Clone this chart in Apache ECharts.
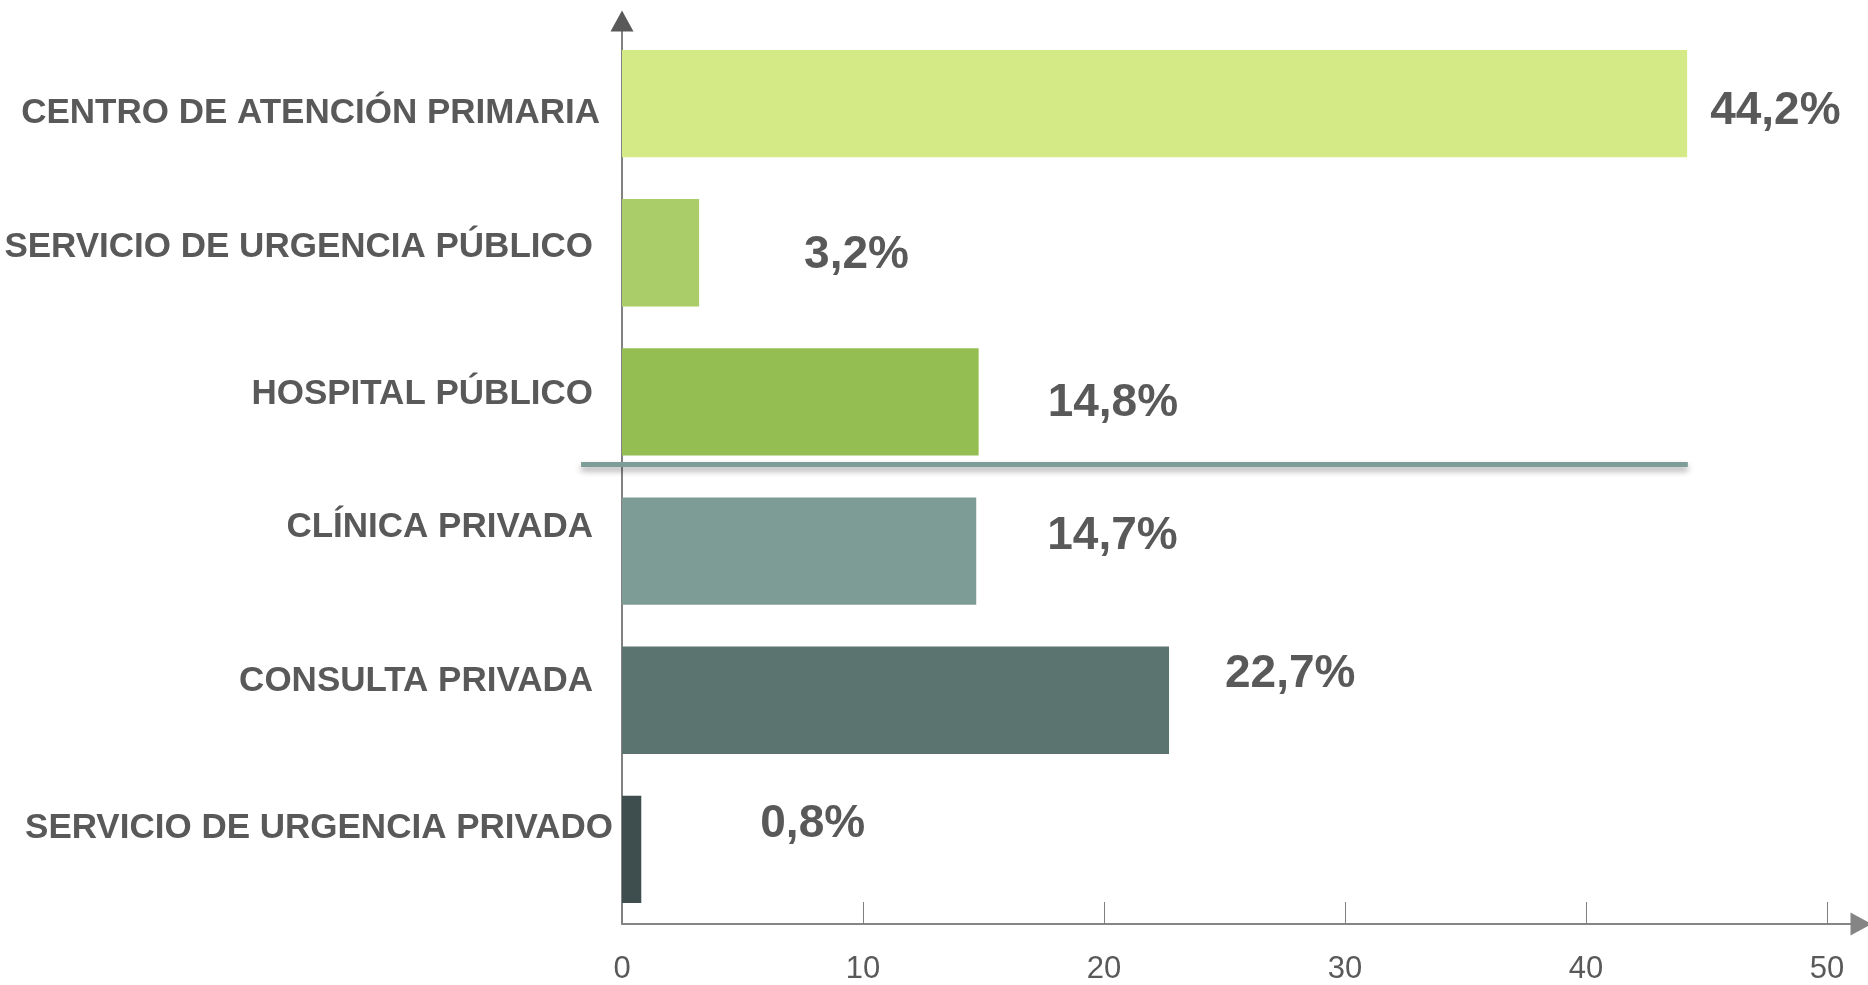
<!DOCTYPE html>
<html>
<head>
<meta charset="utf-8">
<title>Lugar de atención</title>
<script src="https://cdn.jsdelivr.net/npm/echarts@6/dist/echarts.min.js"></script>
<style>
  html, body { margin: 0; padding: 0; background: #fff; }
  #chart { width: 1868px; height: 985px; }
</style>
</head>
<body>
<div id="chart"></div>
<script>
// data
var categories = [
    'CENTRO DE ATENCIÓN PRIMARIA',
    'SERVICIO DE URGENCIA PÚBLICO',
    'HOSPITAL PÚBLICO',
    'CLÍNICA PRIVADA',
    'CONSULTA PRIVADA',
    'SERVICIO DE URGENCIA PRIVADO'
];
var percentages = [44.2, 3.2, 14.8, 14.7, 22.7, 0.8];
var tickValues = [0, 10, 20, 30, 40, 50];

// public / private divider, in axis units
var dividerAt = 2.92;
var dividerSpan = [-1.7, 44.23];

// styling
var barColors = ['#d4ea86', '#aacd6a', '#94be52', '#7e9c96', '#5b7470', '#3e4d4d'];
// the labels on the slide were placed by hand, so each one gets its own nudge [dx, dy]
var valueLabelShift = [[23, 8], [105, 3], [69, 1], [71, -15], [56, -26], [119, -25]];
var catLabelShift = [[13, 10], [20, -5], [20, -8], [20, -24], [20, -19], [0, -21]];

var textColor = '#595959';

var richCats = {};
catLabelShift.forEach(function (s, i) {
    var dy = s[1];
    richCats['c' + i] = {
        fontFamily: "'Liberation Sans', sans-serif",
        fontWeight: 'bold',
        fontSize: 35,
        lineHeight: 35,
        color: textColor,
        padding: [dy > 0 ? dy * 2 : 0, s[0], dy < 0 ? -dy * 2 : 0, 0]
    };
});

var barData = percentages.map(function (v, i) {
    return {
        value: v,
        itemStyle: { color: barColors[i] },
        label: { offset: valueLabelShift[i] }
    };
});

var chart = echarts.init(document.getElementById('chart'));

chart.setOption({
    animation: false,
    backgroundColor: '#ffffff',
    grid: {
        left: 622,
        right: 17,
        top: 29,
        bottom: 61,
        outerBoundsMode: 'none'
    },
    xAxis: {
        type: 'value',
        min: 0,
        max: 51,
        splitLine: { show: false },
        axisLine: {
            show: true,
            onZero: false,
            lineStyle: { color: '#858585', width: 2 },
            symbol: ['none', 'triangle'],
            symbolSize: [23, 21],
            symbolOffset: [0, 10]
        },
        axisTick: {
            show: true,
            inside: true,
            length: 22,
            customValues: tickValues,
            lineStyle: { color: '#808080', width: 1 }
        },
        axisLabel: {
            customValues: tickValues,
            margin: 30,
            color: textColor,
            fontFamily: "'Liberation Sans', sans-serif",
            fontSize: 31
        }
    },
    yAxis: [
        {
            type: 'category',
            data: categories,
            inverse: true,
            axisLine: {
                show: true,
                lineStyle: { color: '#595959', width: 1.5 },
                symbol: ['none', 'triangle'],
                symbolSize: [23, 21],
                symbolOffset: [0, 8]
            },
            axisTick: { show: false },
            axisLabel: {
                margin: 9,
                formatter: function (v, i) {
                    return '{c' + i + '|' + v + '}';
                },
                rich: richCats
            }
        },
        {
            type: 'value',
            min: 0,
            max: 6,
            inverse: true,
            show: false
        }
    ],
    series: [
        {
            type: 'bar',
            data: barData,
            barCategoryGap: '28%',
            label: {
                show: true,
                position: 'right',
                distance: 0,
                color: textColor,
                fontFamily: "'Liberation Sans', sans-serif",
                fontWeight: 'bold',
                fontSize: 46,
                formatter: function (p) {
                    return p.value.toFixed(1).replace('.', ',') + '%';
                }
            }
        },
        {
            // divider between public and private services, runs past the y axis
            type: 'custom',
            yAxisIndex: 1,
            silent: true,
            clip: false,
            z: 5,
            data: [[dividerSpan[0], dividerSpan[1], dividerAt]],
            renderItem: function (params, api) {
                var a = api.coord([api.value(0), api.value(2)]);
                var b = api.coord([api.value(1), api.value(2)]);
                return {
                    type: 'line',
                    shape: { x1: a[0], y1: a[1], x2: b[0], y2: b[1] },
                    style: {
                        stroke: '#7f9d98',
                        lineWidth: 5,
                        shadowColor: 'rgba(0, 0, 0, 0.35)',
                        shadowBlur: 6,
                        shadowOffsetY: 4
                    }
                };
            }
        }
    ]
});
</script>
</body>
</html>
